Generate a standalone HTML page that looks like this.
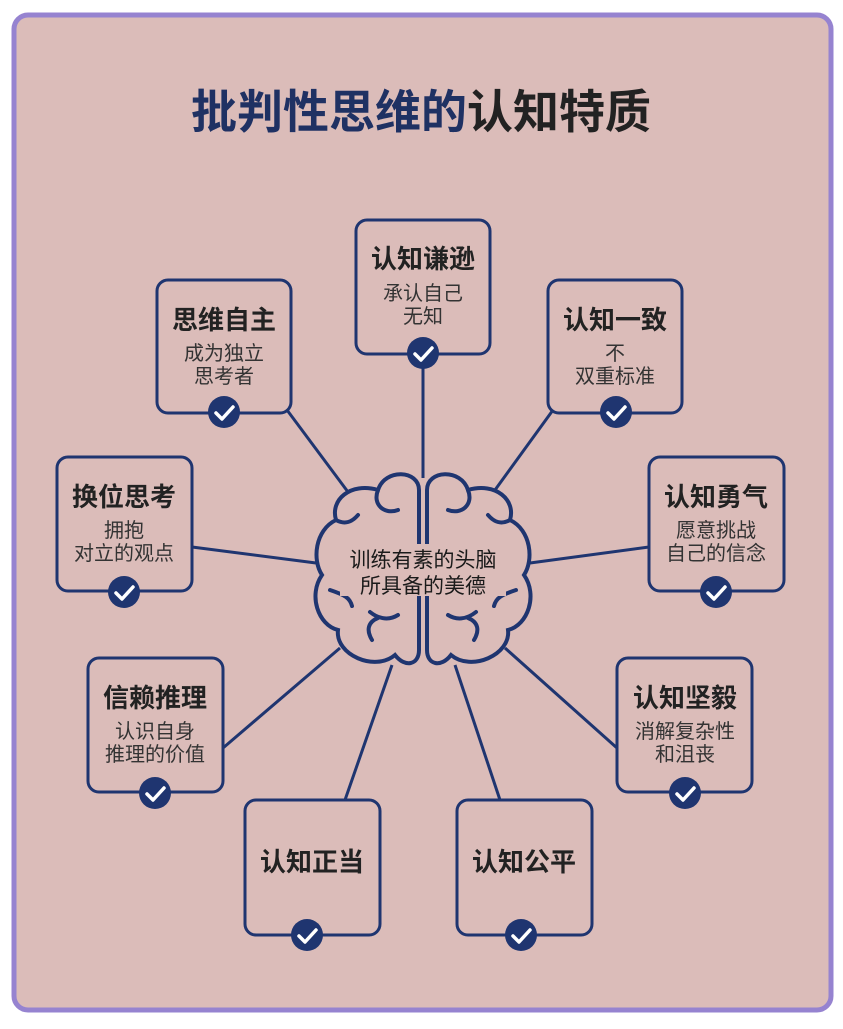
<!DOCTYPE html>
<html><head><meta charset="utf-8"><style>
body{margin:0;width:843px;height:1024px;background:#fff;overflow:hidden}
</style></head><body>
<svg width="843" height="1024" viewBox="0 0 843 1024" xmlns="http://www.w3.org/2000/svg" font-family="'Liberation Sans','Noto Sans CJK SC',sans-serif">
<rect x="14" y="15" width="817" height="995" rx="14" fill="#dbbcb9" stroke="#9683d0" stroke-width="5"/>
<text x="421" y="128" text-anchor="middle" font-size="46" font-weight="bold" fill="#1f3163">批判性思维的<tspan fill="#222">认知特质</tspan></text>
<g stroke="#1f3570" stroke-width="3" fill="none">
<line x1="423" y1="355" x2="423" y2="478"/>
<line x1="287" y1="410" x2="348" y2="492"/>
<line x1="553" y1="410" x2="495" y2="490"/>
<line x1="192" y1="547" x2="316" y2="563"/>
<line x1="649" y1="547" x2="530" y2="563"/>
<line x1="223" y1="748" x2="340" y2="648"/>
<line x1="617" y1="748" x2="505" y2="648"/>
<line x1="345" y1="800" x2="392" y2="665"/>
<line x1="500" y1="800" x2="455" y2="665"/>
</g>
<g id="brainL" stroke="#1f3570" stroke-width="4" fill="#dbbcb9" stroke-linecap="round">
<path d="M419 490 C419 470 385 468 378 490 C350 482 330 500 336 520 C315 530 312 560 322 575 C308 595 318 625 338 630 C335 655 375 672 395 655 C405 668 419 665 419 650 Z"/>
<path d="M419 495 L419 640" fill="none"/>
<path d="M378 490 C372 505 385 515 398 510" fill="none"/>
<path d="M336 520 C345 525 352 522 358 515" fill="none"/>
<path d="M330 590 C345 595 350 598 352 606" fill="none"/>
<path d="M370 612 C380 620 390 620 398 615" fill="none"/>
<path d="M372 640 C366 630 368 622 378 618" fill="none"/>
</g>
<use href="#brainL" transform="translate(846,0) scale(-1,1)"/>
<rect x="340" y="544" width="166" height="52" fill="#dbbcb9"/>
<text x="423" y="567" text-anchor="middle" font-size="21" fill="#1a1a1a">训练有素的头脑</text>
<text x="423" y="593" text-anchor="middle" font-size="21" fill="#1a1a1a">所具备的美德</text>
<g stroke="#1f3570" stroke-width="3" fill="#dbbcb9">
<rect x="356" y="220" width="134" height="134" rx="11"/>
<rect x="157" y="280" width="134" height="133" rx="11"/>
<rect x="548" y="280" width="134" height="133" rx="11"/>
<rect x="57" y="457" width="135" height="134" rx="11"/>
<rect x="649" y="457" width="135" height="134" rx="11"/>
<rect x="88" y="658" width="135" height="134" rx="11"/>
<rect x="617" y="658" width="135" height="134" rx="11"/>
<rect x="245" y="800" width="135" height="135" rx="11"/>
<rect x="457" y="800" width="135" height="135" rx="11"/>
</g>
<g font-size="26" font-weight="bold" fill="#222" text-anchor="middle">
<text x="423" y="268">认知谦逊</text>
<text x="224" y="329">思维自主</text>
<text x="615" y="329">认知一致</text>
<text x="124" y="506">换位思考</text>
<text x="716" y="506">认知勇气</text>
<text x="155" y="707">信赖推理</text>
<text x="685" y="707">认知坚毅</text>
<text x="312" y="871">认知正当</text>
<text x="524" y="871">认知公平</text>
</g>
<g font-size="20" fill="#333" text-anchor="middle">
<text x="423" y="300">承认自己</text><text x="423" y="323">无知</text>
<text x="224" y="360">成为独立</text><text x="224" y="383">思考者</text>
<text x="615" y="360">不</text><text x="615" y="383">双重标准</text>
<text x="124" y="537">拥抱</text><text x="124" y="560">对立的观点</text>
<text x="716" y="537">愿意挑战</text><text x="716" y="560">自己的信念</text>
<text x="155" y="738">认识自身</text><text x="155" y="761">推理的价值</text>
<text x="685" y="738">消解复杂性</text><text x="685" y="761">和沮丧</text>
</g>
<defs><g id="ck"><circle r="16" fill="#1f3570"/><path d="M-8 1 L-2 7 L9 -5" stroke="#fff" stroke-width="3.5" fill="none" stroke-linecap="round" stroke-linejoin="round"/></g></defs>
<use href="#ck" x="423" y="353"/>
<use href="#ck" x="224" y="412"/>
<use href="#ck" x="616" y="412"/>
<use href="#ck" x="124" y="592"/>
<use href="#ck" x="716" y="592"/>
<use href="#ck" x="155" y="793"/>
<use href="#ck" x="685" y="793"/>
<use href="#ck" x="307" y="935"/>
<use href="#ck" x="521" y="935"/>
</svg>
</body></html>
